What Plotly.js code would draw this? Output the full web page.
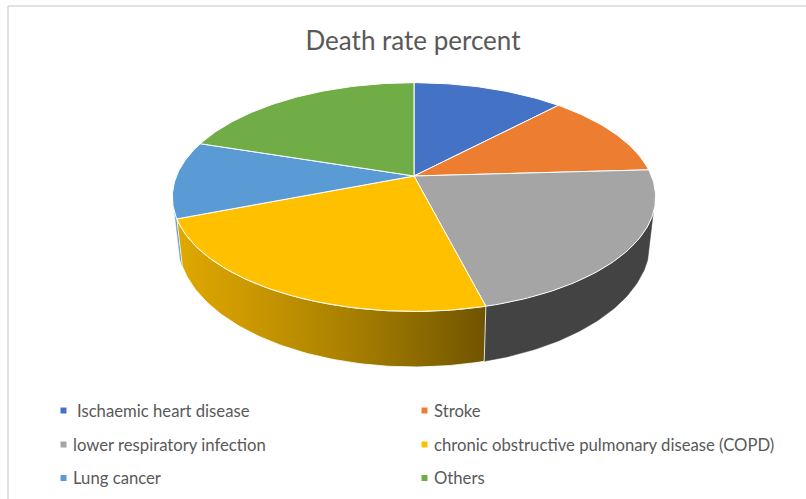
<!DOCTYPE html>
<html><head><meta charset="utf-8">
<script src="https://cdn.plot.ly/plotly-3.0.1.min.js"></script>
<style>html,body{margin:0;padding:0;background:#fff}#c{width:806px;height:499px}</style>
</head><body><div id="c"></div>
<script>
const categories = ["Ischaemic heart disease","Stroke","lower respiratory infection","chronic obstructive pulmonary disease (COPD)","Lung cancer","Others"];
const deathRate = [12.1,12.0,21.9,23.1,10.9,20];
const topColors = ["#4472C4","#ED7D31","#A5A5A5","#FFC000","#5B9BD5","#70AD47"];
const legendX = [63.5,424.5,63.5,424.5,63.5,424.5];
const legendY = [410.5,410.5,444.5,444.5,478,478];
const labelX = [77,434,73,434,73,434];

// Perspective view of the disc, all in page pixels
const FONT = "Lato, 'Open Sans', sans-serif", TEXT = "#595959";
const cx = 414, p = 0.184;
const topFace = {cy:176, A:237.5, B:110.5};
const baseFace = {cy:219.5, A:232, B:120.3};
const project = (f, deg) => {
  const t = deg*Math.PI/180, X = Math.sin(t), Y = Math.cos(t), w = 1+p*Y;
  return [cx + f.A*X/w, f.cy - f.B*Y/w];
};
const arc = (f, a, b) => {
  const n = Math.max(2, Math.ceil(Math.abs(b-a))), pts = [];
  for (let i=0;i<=n;i++) pts.push(project(f, a+(b-a)*i/n));
  return pts;
};
const total = deathRate.reduce((s,v)=>s+v,0);
const edges = [0];
deathRate.forEach(v=>edges.push(edges[edges.length-1]+v/total*360));

const polygon = (pts, extra) => Object.assign({
  type:"scatter", mode:"lines", fill:"toself", hoverinfo:"skip", showlegend:false,
  x:pts.map(q=>q[0]), y:pts.map(q=>q[1]), line:{color:"#ffffff",width:1}
}, extra);
const wall = (a,b,extra) => polygon([...arc(topFace,a,b),...arc(baseFace,b,a),project(topFace,a)], extra);

const traces = [];
// visible side walls
const RIGHT_TANGENT = 108.5, LEFT_TANGENT_SLIVER = 3;
traces.push(wall(edges[4], edges[4]+LEFT_TANGENT_SLIVER, {fillcolor:"#4A80B5", line:{color:"#8fb5dc",width:0.6}}));
traces.push(wall(RIGHT_TANGENT, edges[3], {fillcolor:"#434343", line:{color:"#434343",width:0.5}}));
traces.push(wall(edges[3], edges[4], {
  line:{color:"#ffffff",width:0.8},
  fillgradient:{type:"horizontal", colorscale:[[0,"#E0A900"],[0.25,"#C99700"],[0.55,"#A98000"],[0.85,"#846400"],[1,"#705400"]]}
}));
// top face slices, one per category
deathRate.forEach((v,i)=>{
  traces.push(polygon([[cx,topFace.cy],...arc(topFace,edges[i],edges[i+1]),[cx,topFace.cy]], {fillcolor:topColors[i], name:categories[i]}));
});
// legend swatches
categories.forEach((c,i)=>traces.push({
  type:"scatter", mode:"markers", x:[legendX[i]], y:[legendY[i]], hoverinfo:"skip", showlegend:false,
  marker:{symbol:"square", size:6, color:topColors[i]}
}));

const annotations = categories.map((c,i)=>({
  text:c, x:labelX[i], y:legendY[i], xref:"x", yref:"y", xanchor:"left", yanchor:"middle",
  showarrow:false, xshift:-2, yshift:0, font:{family:FONT,size:16.7,color:TEXT}
}));

Plotly.newPlot("c", traces, {
  width:806, height:499, margin:{l:0,r:0,t:0,b:0}, paper_bgcolor:"#fff", plot_bgcolor:"#fff", showlegend:false,
  title:{text:"Death rate percent", x:413/806, xanchor:"center", y:1-40.5/499, yanchor:"middle", font:{family:FONT,size:26,color:TEXT}},
  xaxis:{range:[0,806],visible:false,fixedrange:true},
  yaxis:{range:[499,0],visible:false,fixedrange:true},
  shapes:[
    {type:"line",xref:"x",yref:"y",x0:8,x1:8,y0:6,y1:499,line:{color:"#D9D9D9",width:1.5}},
    {type:"line",xref:"x",yref:"y",x0:8,x1:806,y0:6,y1:6,line:{color:"#D9D9D9",width:1.5}}
  ],
  annotations
}, {staticPlot:true, displayModeBar:false});
</script></body></html>
